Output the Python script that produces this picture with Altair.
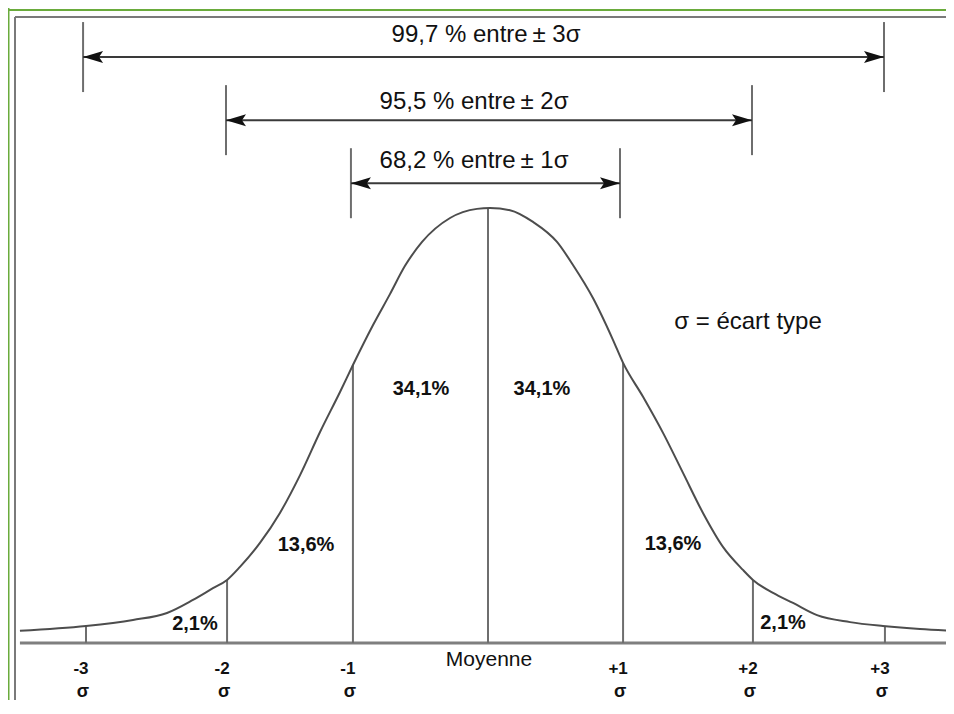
import altair as alt
import pandas as pd

# ---------------- data (x in sigma units, y relative to the peak height) -------------
curve_x = [-3.514, -3.018, -2.665, -2.410, -2.215, -2.065, -1.959, -1.862, -1.712,
           -1.562, -1.411, -1.261, -1.111, -1.014, -0.863, -0.736, -0.623, -0.495,
           -0.285, -0.083, 0.015, 0.165, 0.338, 0.518, 0.638, 0.788, 0.938, 1.014,
           1.164, 1.314, 1.464, 1.614, 1.764, 1.914, 1.989, 2.140, 2.290, 2.470,
           2.718, 2.965, 3.243, 3.491]
curve_y = [0.028, 0.039, 0.053, 0.069, 0.099, 0.126, 0.145, 0.175, 0.230,
           0.299, 0.386, 0.485, 0.577, 0.639, 0.731, 0.802, 0.867, 0.922,
           0.977, 0.998, 1.000, 0.995, 0.968, 0.922, 0.869, 0.793, 0.697, 0.644,
           0.566, 0.483, 0.391, 0.299, 0.221, 0.168, 0.145, 0.115, 0.092, 0.064,
           0.048, 0.039, 0.032, 0.028]

bound_x = [-3.018, -1.959, -1.014, 0.0, 1.014, 1.989, 2.980]
bound_top = [0.039, 0.145, 0.639, 1.000, 0.644, 0.145, 0.039]
tick_numbers = ["-3", "-2", "-1", "+1", "+2", "+3"]
tick_number_x = [-3.018, -1.959, -1.014, 1.014, 1.989, 2.980]
mean_label = "Moyenne"

pct_labels = ["2,1%", "13,6%", "34,1%", "34,1%", "13,6%", "2,1%"]
pct_x = [-2.200, -1.366, -0.503, 0.405, 1.389, 2.215]
pct_y = [0.044, 0.225, 0.584, 0.584, 0.228, 0.046]

arrow_labels = ["99,7 % entre\u2009± 3σ", "95,5 % entre\u2009± 2σ", "68,2 % entre\u2009± 1σ"]
arrow_left = [-3.040, -1.967, -1.029]
arrow_right = [2.973, 1.982, 0.991]
arrow_level = [1.347, 1.202, 1.057]
arrow_label_x = [-0.015, -0.105, -0.105]
arrow_label_y = [1.398, 1.244, 1.108]

legend_text = "σ = écart type"
legend_x, legend_y = 1.952, 0.738

axis_start = -3.514

# ---------------- layout -------------
W, H = 938, 692
PX_PER_SIGMA = 133.2
PX_PER_UNIT = 435.0
X0, Y0 = 480, 635
xmin, xmax = -X0 / PX_PER_SIGMA, (W - X0) / PX_PER_SIGMA
ymin, ymax = -(H - Y0) / PX_PER_UNIT, Y0 / PX_PER_UNIT
xs = alt.Scale(domain=[xmin, xmax], nice=False, zero=False)
ys = alt.Scale(domain=[ymin, ymax], nice=False, zero=False)
tick_half = 35 / PX_PER_UNIT

FONT = "Liberation Sans, Arial, sans-serif"
TXT = "#111111"

def X(f, **kw):
    return alt.X(f, type="quantitative", scale=xs, axis=None, **kw)

def Y(f, **kw):
    return alt.Y(f, type="quantitative", scale=ys, axis=None, **kw)

curve_df = pd.DataFrame({"x": curve_x, "y": curve_y})
bound_df = pd.DataFrame({"x": bound_x, "y0": [0.0] * len(bound_x), "y1": bound_top})
axis_df = pd.DataFrame({"x": [axis_start], "x2": [xmax], "y": [0.0]})
arrow_df = pd.DataFrame({"l": arrow_left, "r": arrow_right, "y": arrow_level,
                         "lab": arrow_labels, "lx": arrow_label_x, "ly": arrow_label_y})
ends_df = pd.DataFrame({"x": arrow_left + arrow_right,
                        "lo": [v - tick_half for v in arrow_level] * 2,
                        "hi": [v + tick_half for v in arrow_level] * 2})
left_heads = pd.DataFrame({"x": arrow_left, "y": arrow_level})
right_heads = pd.DataFrame({"x": arrow_right, "y": arrow_level})
pct_df = pd.DataFrame({"x": pct_x, "y": pct_y, "t": pct_labels})
num_df = pd.DataFrame({"x": tick_number_x, "t": tick_numbers,
                       "y": [-26 / PX_PER_UNIT] * len(tick_numbers),
                       "y2": [-49 / PX_PER_UNIT] * len(tick_numbers),
                       "s": ["σ"] * len(tick_numbers)})
mean_df = pd.DataFrame({"x": [0.0075], "y": [-17 / PX_PER_UNIT], "t": [mean_label]})
legend_df = pd.DataFrame({"x": [legend_x], "y": [legend_y], "t": [legend_text]})

base_one = pd.DataFrame({"a": [0]})

# frame decorations
green_left = alt.Chart(base_one).mark_rule(color="#6aab3c", strokeWidth=2).encode(
    x=alt.value(0.5), y=alt.value(0), y2=alt.value(H))
green_top = alt.Chart(base_one).mark_rule(color="#6aab3c", strokeWidth=2).encode(
    y=alt.value(2), x=alt.value(0), x2=alt.value(W))
grey_left = alt.Chart(base_one).mark_rule(color="#7a7a7a", strokeWidth=2).encode(
    x=alt.value(7), y=alt.value(9), y2=alt.value(H))
grey_top = alt.Chart(base_one).mark_rule(color="#7a7a7a", strokeWidth=2).encode(
    y=alt.value(9), x=alt.value(7), x2=alt.value(W))

axis_line = alt.Chart(axis_df).mark_rule(color="#7f7f7f", strokeWidth=3).encode(
    x=X("x"), x2="x2", y=Y("y"))

bounds = alt.Chart(bound_df).mark_rule(color="#6e6e6e", strokeWidth=2).encode(
    x=X("x"), y=Y("y0"), y2="y1")

curve = alt.Chart(curve_df).mark_line(color="#4d4d4d", strokeWidth=2,
                                       interpolate="monotone").encode(
    x=X("x"), y=Y("y"))

arrow_lines = alt.Chart(arrow_df).mark_rule(color="#3a3a3a", strokeWidth=2).encode(
    x=X("l"), x2="r", y=Y("y"))
arrow_ends = alt.Chart(ends_df).mark_rule(color="#6e6e6e", strokeWidth=2).encode(
    x=X("x"), y=Y("lo"), y2="hi")

LEFT_HEAD = "M0,0 L1,-0.3 L0.8,0 L1,0.3 Z"
RIGHT_HEAD = "M0,0 L-1,-0.3 L-0.8,0 L-1,0.3 Z"
heads_l = alt.Chart(left_heads).mark_point(shape=LEFT_HEAD, filled=True, opacity=1,
                                           color="#111111", size=1600, strokeWidth=0).encode(
    x=X("x"), y=Y("y"))
heads_r = alt.Chart(right_heads).mark_point(shape=RIGHT_HEAD, filled=True, opacity=1,
                                            color="#111111", size=1600, strokeWidth=0).encode(
    x=X("x"), y=Y("y"))

arrow_text = alt.Chart(arrow_df).mark_text(font=FONT, fontSize=24, color=TXT,
                                           baseline="middle", align="center").encode(
    x=X("lx"), y=Y("ly"), text="lab:N")

pct_text = alt.Chart(pct_df).mark_text(font=FONT, fontSize=20, fontWeight="bold",
                                       color=TXT, baseline="middle", align="center").encode(
    x=X("x"), y=Y("y"), text="t:N")

num_text = alt.Chart(num_df).mark_text(font=FONT, fontSize=17, fontWeight="bold",
                                       color=TXT, baseline="middle", align="center",
                                       dx=-5).encode(
    x=X("x"), y=Y("y"), text="t:N")
sig_text = alt.Chart(num_df).mark_text(font=FONT, fontSize=18, fontWeight="bold",
                                       color=TXT, baseline="middle", align="center",
                                       dx=-3).encode(
    x=X("x"), y=Y("y2"), text="s:N")

mean_text = alt.Chart(mean_df).mark_text(font=FONT, fontSize=21, color=TXT,
                                         baseline="middle", align="center").encode(
    x=X("x"), y=Y("y"), text="t:N")

legend = alt.Chart(legend_df).mark_text(font=FONT, fontSize=24, color=TXT,
                                        baseline="middle", align="center").encode(
    x=X("x"), y=Y("y"), text="t:N")

chart = alt.layer(
    green_left, green_top, grey_left, grey_top,
    axis_line, bounds, curve, arrow_ends, arrow_lines, heads_l, heads_r,
    arrow_text, pct_text, num_text, sig_text, mean_text, legend,
).properties(
    width=W, height=H, padding=0, background="white",
    autosize=alt.AutoSizeParams(type="none"),
).configure_view(stroke=None)

chart.save("out.html", embed_options={"renderer": "svg", "actions": False})
